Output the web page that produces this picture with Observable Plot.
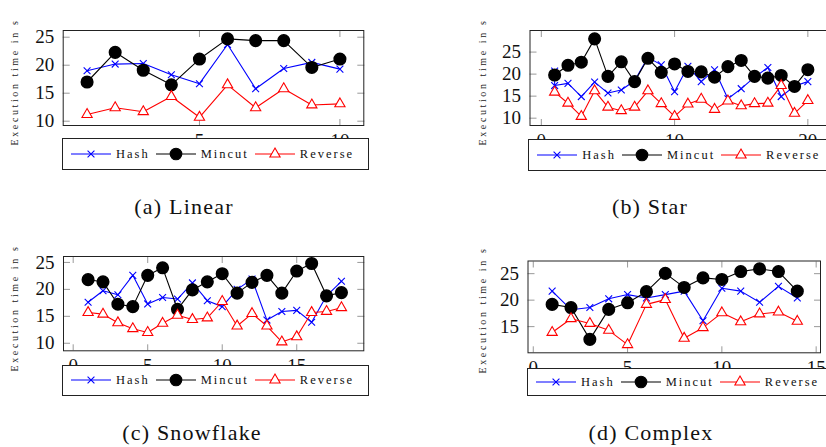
<!DOCTYPE html>
<html>
<head>
<meta charset="utf-8">
<script src="https://cdn.jsdelivr.net/npm/d3@7"></script>
<script src="https://cdn.jsdelivr.net/npm/@observablehq/plot@0.6"></script>
<style>
  html, body { margin: 0; padding: 0; background: #fff; }
  body { width: 826px; height: 447px; overflow: hidden; position: relative; }
  .panel { position: absolute; }
  .legend { position: absolute; background: #fff; border: 1px solid #222; box-sizing: border-box;
    display: flex; align-items: center; padding: 0 8px 0 8px; white-space: nowrap;
    font-family: "Liberation Serif", "DejaVu Serif", serif; font-size: 12.5px; letter-spacing: 2px; color: #111; }
  .legend .item { display: flex; align-items: center; }
  .legend svg { margin-right: 5px; }
  .legend .lab { margin-right: 6px; }
  .ylab { position: absolute; font-family: "Liberation Serif", "DejaVu Serif", serif; font-size: 10px; letter-spacing: 2.6px;
    white-space: nowrap; color: #222; transform: translate(-50%, -50%) rotate(-90deg); }
  .cap { position: absolute; font-family: "Liberation Serif", "DejaVu Serif", serif; font-size: 22px; letter-spacing: 1.2px;
    white-space: nowrap; color: #111; transform: translate(-50%, -50%); }
</style>
</head>
<body>
<script>
// ---------- data ----------
const seriesNames = ["Hash", "Mincut", "Reverse"];
const yLabel = "Execution time in s";
const captions = ["(a) Linear", "(b) Star", "(c) Snowflake", "(d) Complex"];

const linearX = [1, 2, 3, 4, 5, 6, 7, 8, 9, 10];
const linearHash = [19.0, 20.2, 20.3, 18.3, 16.7, 23.7, 15.8, 19.4, 20.5, 19.3];
const linearMincut = [17.0, 22.3, 19.1, 16.5, 21.1, 24.7, 24.4, 24.4, 19.6, 21.1];
const linearReverse = [11.2, 12.4, 11.7, 14.4, 10.7, 16.5, 12.4, 15.8, 12.9, 13.1];
const linearXTicks = [5, 10];
const linearYTicks = [10, 15, 20, 25];

const starX = [1, 2, 3, 4, 5, 6, 7, 8, 9, 10, 11, 12, 13, 14, 15, 16, 17, 18, 19, 20];
const starHashX = [1, 1, 2, 3, 4, 5, 6, 7, 8, 9, 10, 11, 12, 13, 14, 15, 16, 17, 18, 19, 20];
const starHash = [20.7, 17.4, 17.9, 14.9, 18.2, 15.7, 16.4, 18.5, 23.8, 22.1, 16.0, 21.8, 18.3, 21.0, 14.4, 16.7, 19.3, 21.5, 14.9, 17.3, 18.3];
const starMincut = [19.8, 22.0, 22.7, 28.0, 19.5, 22.8, 18.3, 23.6, 20.4, 22.3, 20.6, 20.5, 19.3, 21.7, 23.1, 19.5, 19.1, 19.7, 17.2, 21.0];
const starReverse = [15.9, 13.4, 10.4, 16.2, 12.5, 11.7, 12.5, 16.2, 13.3, 10.4, 13.2, 14.3, 12.0, 13.9, 12.8, 13.3, 13.4, 17.4, 11.1, 14.0];
const starXTicks = [0, 10, 20];
const starYTicks = [10, 15, 20, 25];

const snowX = [1, 2, 3, 4, 5, 6, 7, 8, 9, 10, 11, 12, 13, 14, 15, 16, 17, 18];
const snowHash = [17.6, 19.75, 19.0, 22.6, 17.3, 18.5, 18.2, 21.2, 17.9, 16.8, 20.0, 21.9, 14.3, 15.9, 16.1, 13.9, 18.8, 21.5];
const snowMincut = [21.8, 21.4, 17.25, 16.8, 22.6, 24.0, 16.3, 19.9, 21.4, 22.9, 19.3, 21.3, 22.6, 19.3, 23.4, 24.8, 18.8, 19.4];
const snowReverse = [15.7, 15.4, 13.8, 12.7, 12.0, 13.7, 15.2, 14.4, 14.7, 17.75, 13.2, 15.5, 13.2, 10.25, 11.2, 15.7, 15.9, 16.6];
const snowXTicks = [0, 5, 10, 15];
const snowYTicks = [10, 15, 20, 25];

const complexX = [1, 2, 3, 4, 5, 6, 7, 8, 9, 10, 11, 12, 13, 14];
const complexHash = [21.7, 18.2, 18.6, 20.25, 21.05, 20.4, 21.05, 21.7, 16.1, 22.25, 21.7, 19.6, 22.6, 20.4];
const complexMincut = [19.2, 18.6, 12.6, 18.25, 19.5, 21.6, 25.05, 22.4, 24.2, 23.9, 25.4, 25.9, 25.4, 21.7];
const complexReverse = [13.9, 16.5, 15.6, 14.3, 11.6, 19.2, 20.1, 12.8, 14.8, 17.6, 15.9, 17.4, 17.75, 16.0];
const complexXTicks = [0, 5, 10, 15];
const complexYTicks = [15, 20, 25];

// ---------- styles ----------
const colors = {Hash: "#0000ff", Mincut: "#000000", Reverse: "#ff0000"};
const serif = "'Liberation Serif', 'DejaVu Serif', serif";
const rHash = 3.2, rMincut = 5.8, rReverse = 3.8;

const rows = (xs, ys) => xs.map((x, i) => ({x, y: ys[i]}));

function makePanel(cfg) {
  const hash = rows(cfg.hashX || cfg.x, cfg.hash);
  const mincut = rows(cfg.x, cfg.mincut);
  const reverse = rows(cfg.x, cfg.reverse);
  const chart = Plot.plot({
    width: cfg.w, height: cfg.h,
    marginLeft: cfg.fl, marginRight: cfg.w - cfg.fr, marginTop: cfg.ft, marginBottom: cfg.h - cfg.fb,
    x: {domain: cfg.xDomain},
    y: {domain: cfg.yDomain},
    style: {fontFamily: serif, fontSize: "19px", color: "#111", background: "none", maxWidth: "none", overflow: "visible"},
    marks: [
      Plot.axisX(cfg.xTicks, {anchor: "bottom", tickSize: 0, tickPadding: 8, fontSize: 19, label: null}),
      Plot.axisX(cfg.xTicks, {anchor: "bottom", tickSize: -6, text: null, stroke: "#999", label: null}),
      Plot.axisX(cfg.xTicks, {anchor: "top", tickSize: -6, text: null, stroke: "#999", label: null}),
      Plot.axisY(cfg.yTicks, {anchor: "left", tickSize: 0, tickPadding: 9, fontSize: 19, label: null}),
      Plot.axisY(cfg.yTicks, {anchor: "left", tickSize: -7, text: null, stroke: "#999", label: null}),
      Plot.axisY(cfg.yTicks, {anchor: "right", tickSize: -7, text: null, stroke: "#999", label: null}),
      Plot.line(hash, {x: "x", y: "y", stroke: colors.Hash, strokeWidth: 1.1}),
      Plot.dot(hash, {x: "x", y: "y", symbol: "times", r: rHash, stroke: colors.Hash, strokeWidth: 1.1}),
      Plot.line(mincut, {x: "x", y: "y", stroke: colors.Mincut, strokeWidth: 1.1}),
      Plot.dot(mincut, {x: "x", y: "y", symbol: "circle", r: rMincut, fill: colors.Mincut, stroke: colors.Mincut}),
      Plot.line(reverse, {x: "x", y: "y", stroke: colors.Reverse, strokeWidth: 1.1}),
      Plot.dot(reverse, {x: "x", y: "y", symbol: "triangle", r: rReverse, fill: "#fff", stroke: colors.Reverse, strokeWidth: 1.1}),
      Plot.frame({stroke: "#222", strokeWidth: 1})
    ]
  });
  const div = document.createElement("div");
  div.className = "panel";
  div.style.left = cfg.left + "px";
  div.style.top = cfg.top + "px";
  div.appendChild(chart);
  document.body.appendChild(div);

  // legend
  const lg = document.createElement("div");
  lg.className = "legend";
  lg.style.left = cfg.legend[0] + "px";
  lg.style.top = cfg.legend[1] + "px";
  lg.style.height = cfg.legend[2] + "px";
  const symbols = {Hash: d3.symbolTimes, Mincut: d3.symbolCircle, Reverse: d3.symbolTriangle};
  const sizes = {Hash: Math.PI * rHash * rHash, Mincut: Math.PI * rMincut * rMincut, Reverse: Math.PI * rReverse * rReverse};
  for (const name of seriesNames) {
    const item = document.createElement("span");
    item.className = "item";
    const c = colors[name];
    const path = d3.symbol(symbols[name], sizes[name])();
    const fill = name === "Mincut" ? c : (name === "Reverse" ? "#fff" : "none");
    item.innerHTML = `<svg width="40" height="14" viewBox="0 0 40 14"><line x1="0" x2="40" y1="7" y2="7" stroke="${c}" stroke-width="1.1"/><path transform="translate(20,7)" d="${path}" fill="${fill}" stroke="${c}" stroke-width="1.1"/></svg><span class="lab">${name}</span>`;
    lg.appendChild(item);
  }
  document.body.appendChild(lg);

  const yl = document.createElement("div");
  yl.className = "ylab";
  yl.textContent = yLabel;
  yl.style.left = cfg.ylab[0] + "px";
  yl.style.top = cfg.ylab[1] + "px";
  document.body.appendChild(yl);

  const cp = document.createElement("div");
  cp.className = "cap";
  cp.textContent = cfg.caption;
  cp.style.left = cfg.cap[0] + "px";
  cp.style.top = cfg.cap[1] + "px";
  document.body.appendChild(cp);
}

makePanel({left: 0, top: 0, w: 400, h: 180, fl: 62.7, fr: 363.3, ft: 30, fb: 125,
  xDomain: [0.15, 10.85], yDomain: [9.23, 26.2], xTicks: linearXTicks, yTicks: linearYTicks,
  x: linearX, hash: linearHash, mincut: linearMincut, reverse: linearReverse,
  legend: [62, 138, 32], ylab: [14, 82], caption: captions[0], cap: [184, 207]});

makePanel({left: 440, top: 0, w: 400, h: 180, fl: 89.5, fr: 392, ft: 30, fb: 125,
  xDomain: [-0.85, 21.85], yDomain: [8.34, 29.9], xTicks: starXTicks, yTicks: starYTicks,
  x: starX, hashX: starHashX, hash: starHash, mincut: starMincut, reverse: starReverse,
  legend: [528.3, 139.3, 31.5], ylab: [482, 82], caption: captions[1], cap: [650, 207]});

makePanel({left: 0, top: 225, w: 400, h: 180, fl: 63, fr: 363.3, ft: 31, fb: 125.3,
  xDomain: [-0.65, 19.5], yDomain: [8.6, 26.1], xTicks: snowXTicks, yTicks: snowYTicks,
  x: snowX, hash: snowHash, mincut: snowMincut, reverse: snowReverse,
  legend: [62, 364.5, 31.5], ylab: [14, 308], caption: captions[2], cap: [192, 433]});

makePanel({left: 440, top: 225, w: 400, h: 180, fl: 87.5, fr: 380, ft: 35.5, fb: 127.3,
  xDomain: [-0.28, 15.23], yDomain: [10.06, 27.39], xTicks: complexXTicks, yTicks: complexYTicks,
  x: complexX, hash: complexHash, mincut: complexMincut, reverse: complexReverse,
  legend: [527, 368.3, 28], ylab: [482, 310], caption: captions[3], cap: [651, 433]});
</script>
</body>
</html>
